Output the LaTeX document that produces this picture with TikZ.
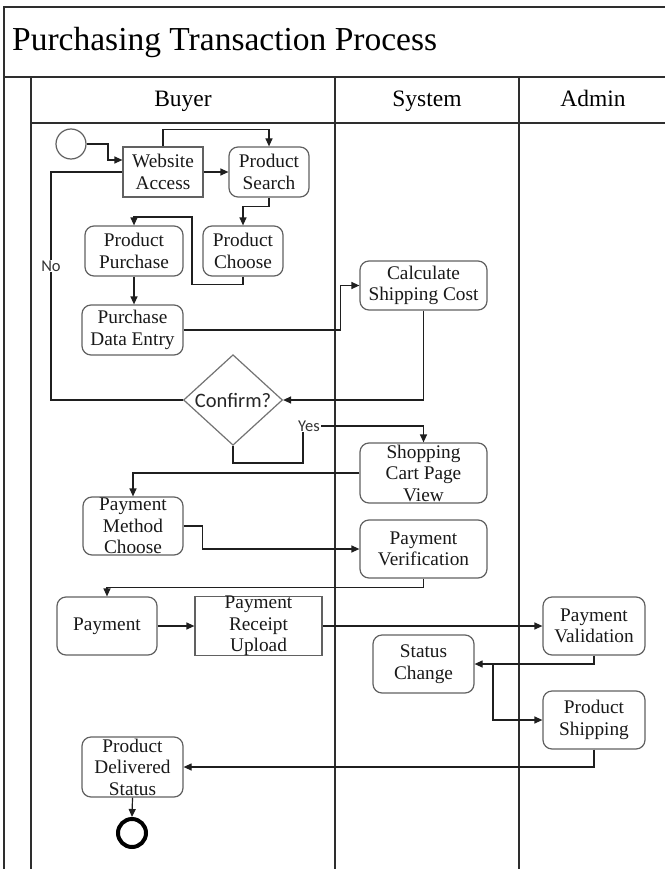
\documentclass[tikz,border=0pt]{standalone}
\usepackage{fontspec}
\setmainfont{Liberation Serif}
\newfontfamily\labelfont{Carlito}
\usetikzlibrary{shapes.geometric,arrows.meta}
\newcommand\boxtextfont{\fontsize{19.3}{21.5}\selectfont}

\begin{document}
\begin{tikzpicture}[x=1pt,y=-1pt,
  lane/.style={draw=black!82, line width=1.6pt},
  box/.style={draw=black!62, line width=1.2pt, inner sep=0pt, align=center,
    font=\boxtextfont, text=black!90},
  act/.style={box, rounded corners=9pt},
  flow/.style={draw=black!88, line width=1.2pt},
  arr/.style={flow, -{Triangle[length=8pt,width=7pt]}},
  lbl/.style={font=\labelfont\fontsize{16.5}{18}\selectfont, text=black!80,
    fill=white, inner sep=1pt},
  head/.style={anchor=base, inner sep=0pt, font=\fontsize{23.5}{26}\selectfont}
]
\useasboundingbox (0,0) rectangle (665,869);
\fill[white] (0,0) rectangle (665,869);

% pool and swimlanes
\draw[lane] (4,869) -- (4,7) -- (665,7);
\draw[lane] (4,77) -- (665,77);
\draw[lane] (31,77) -- (31,869);
\draw[lane] (31,123) -- (665,123);
\draw[lane] (335,77) -- (335,869);
\draw[lane] (519,77) -- (519,869);

\node[anchor=base west, inner sep=0pt, font=\fontsize{33.5}{36}\selectfont]
  (title) at (12,51) {Purchasing Transaction Process};
\node[head] (buyer)  at (183,107) {Buyer};
\node[head] (system) at (427,107) {System};
\node[head] (admin)  at (593,107) {Admin};

% activities
\node[circle, draw=black!62, line width=1.2pt, minimum size=30pt, inner sep=0pt]
  (start) at (71,144) {};
\node[box, minimum width=80pt, minimum height=50pt] (web) at (163,172) {Website\\Access};
\node[act, minimum width=80pt, minimum height=50pt] (search) at (269,172) {Product\\Search};
\node[act, minimum width=80pt, minimum height=50pt] (choose) at (243,251) {Product\\Choose};
\node[act, minimum width=98pt, minimum height=50pt] (purchase) at (134,251) {Product\\Purchase};
\node[act, minimum width=101pt, minimum height=50pt] (entry) at (132.5,330) {Purchase\\Data Entry};
\node[act, minimum width=127pt, minimum height=49pt] (calc) at (423.5,285.5) {Calculate\\Shipping Cost};
\node[diamond, draw=black!55, line width=1.2pt, minimum width=99pt, minimum height=90pt,
  inner sep=0pt, font=\labelfont\fontsize{20.5}{22}\selectfont, text=black!85]
  (confirm) at (233,400) {Confirm?};
\node[act, minimum width=127pt, minimum height=60pt] (cart) at (423.5,473) {Shopping\\Cart Page\\View};
\node[act, minimum width=100pt, minimum height=58pt] (method) at (133,526) {Payment\\Method\\Choose};
\node[act, minimum width=127pt, minimum height=58pt] (verif) at (423.5,549) {Payment\\Verification};
\node[act, minimum width=100pt, minimum height=58pt] (pay) at (107,626) {Payment};
\node[box, minimum width=127pt, minimum height=58pt] (receipt) at (258.5,626) {Payment\\Receipt\\Upload};
\node[act, minimum width=102pt, minimum height=58pt] (valid) at (594,626) {Payment\\Validation};
\node[act, minimum width=101pt, minimum height=58pt] (status) at (423.5,664) {Status\\Change};
\node[act, minimum width=102pt, minimum height=58pt] (ship) at (594,720) {Product\\Shipping};
\node[act, minimum width=101pt, minimum height=60pt] (deliv) at (132.5,767) {Product\\Delivered\\Status};
\node[circle, draw=black, line width=4pt, minimum size=28pt, inner sep=0pt]
  (end) at (132,833) {};

% flows
\draw[arr] (start.east) -| (108,160) -- ([yshift=12pt]web.west);
\draw[arr] (web.north) -- ++(0,-17) -| (search.north);
\draw[arr] (web) -- (search);
\draw[arr] (search.south) -- ++(0,9) -| (choose.north);
\draw[arr] (choose.south) -- ++(0,8) -| (192,217) -| (purchase.north);
\draw[arr] (purchase.south) -- (purchase.south |- entry.north);
\draw[arr] (entry.east) -- ++(157,0) |- (calc.west);
\draw[arr] (calc.south) |- (confirm.east);
\draw[flow] (confirm.west) -| (51,266) node[lbl] {No} |- (web.west);
\draw[arr] (confirm.south) |- (303,463) -- (303,426) node[lbl, xshift=6pt] {Yes} -| (cart.north);
\draw[arr] (cart.west) -| (method.north);
\draw[arr] (method.east) -- ++(19,0) |- (verif.west);
\draw[arr] (verif.south) -- ++(0,9) -| (pay.north);
\draw[arr] (pay) -- (receipt);
\draw[arr] (receipt) -- (valid);
\draw[arr] (valid.south) |- (status.east);
\coordinate (split) at (493,664);
\draw[arr] (split) |- (ship.west);
\draw[arr] (ship.south) |- (deliv.east);
\draw[arr] (deliv.south) -- (end.north);
\end{tikzpicture}
\end{document}
